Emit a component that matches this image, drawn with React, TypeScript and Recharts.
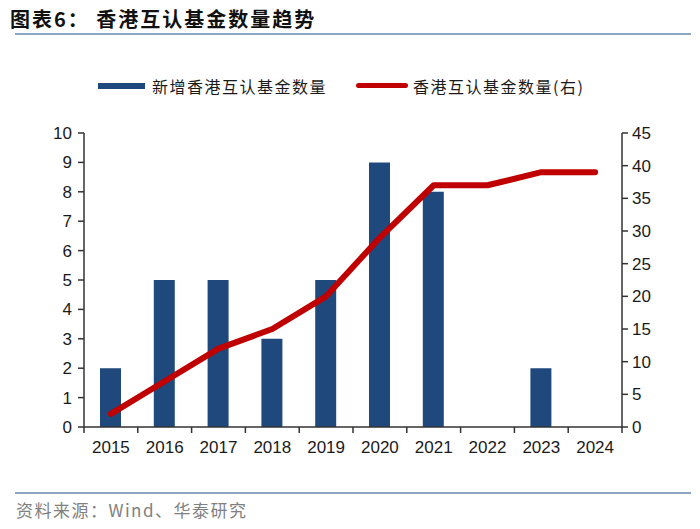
import React from "react";
import { ComposedChart, Bar, Line, XAxis, YAxis } from "recharts";

// 年份
const years = ["2015", "2016", "2017", "2018", "2019", "2020", "2021", "2022", "2023", "2024"];
// 新增香港互认基金数量（左轴）
const newFunds = [2, 5, 5, 3, 5, 9, 8, 0, 2, 0];
// 香港互认基金数量（右轴）
const totalFunds = [2, 7, 12, 15, 20, 29, 37, 37, 39, 39];

const leftTicks = [0, 1, 2, 3, 4, 5, 6, 7, 8, 9, 10];
const rightTicks = [0, 5, 10, 15, 20, 25, 30, 35, 40, 45];

const data = years.map((year, i) => ({
  year,
  newFunds: newFunds[i],
  totalFunds: totalFunds[i],
}));

const BLUE = "#1F497D";
const RED = "#C00000";
const FONT = "'Liberation Sans', Arial, sans-serif";
const CJK = "'Noto Sans CJK SC', sans-serif";
const tick = { fill: "#1a1a1a", fontSize: 17, fontFamily: FONT };
const axisStroke = { stroke: "#333", strokeWidth: 1.5 };

// chart layout
const W = 700;
const H = 529;
const margin = { top: 133, right: 30, bottom: 72, left: 36 };
const Y_W = 48;
const plotW = W - margin.left - margin.right - 2 * Y_W;
const band = plotW / years.length;

// category label plus boundary tick marks (ticks sit between categories)
function YearTick(props: any) {
  const { x, y, payload, index } = props;
  const top = y - 10; // y is label position; axis line sits tickMargin above
  const last = index === years.length - 1;
  return (
    <g>
      <line x1={x - band / 2} x2={x - band / 2} y1={top} y2={top + 6} stroke="#333" strokeWidth={1.5} />
      {last && <line x1={x + band / 2} x2={x + band / 2} y1={top} y2={top + 6} stroke="#333" strokeWidth={1.5} />}
      <text x={x} y={y} dy={16} textAnchor="middle" {...tick}>
        {payload.value}
      </text>
    </g>
  );
}

export default function App() {
  return (
    <div
      style={{
        position: "absolute",
        left: 0,
        top: 0,
        width: W,
        height: H,
        background: "#fff",
        overflow: "hidden",
      }}
    >
      {/* Title */}
      <div
        style={{
          position: "absolute",
          left: 10,
          top: 4,
          fontFamily: CJK,
          fontWeight: 700,
          fontSize: 20,
          color: "#111",
          letterSpacing: 2,
          whiteSpace: "nowrap",
        }}
      >
        图表6：&nbsp;香港互认基金数量趋势
      </div>
      <div style={{ position: "absolute", left: 15, top: 33, width: 676, height: 2, background: "#8BA6C6" }} />

      {/* Legend */}
      <div style={{ position: "absolute", left: 98, top: 83, width: 47, height: 6, background: BLUE }} />
      <div
        style={{
          position: "absolute",
          left: 152,
          top: 74,
          fontFamily: CJK,
          fontSize: 16,
          color: "#1a1a1a",
          letterSpacing: 1.5,
          whiteSpace: "nowrap",
        }}
      >
        新增香港互认基金数量
      </div>
      <div
        style={{
          position: "absolute",
          left: 356,
          top: 83,
          width: 52,
          height: 5,
          borderRadius: 3,
          background: RED,
        }}
      />
      <div
        style={{
          position: "absolute",
          left: 413,
          top: 74,
          fontFamily: CJK,
          fontSize: 16,
          color: "#1a1a1a",
          letterSpacing: 1.5,
          whiteSpace: "nowrap",
        }}
      >
        香港互认基金数量(右)
      </div>

      <div style={{ position: "absolute", left: 0, top: 0 }}>
        <ComposedChart width={W} height={H} data={data} margin={margin}>
          <XAxis
            dataKey="year"
            tick={<YearTick />}
            tickLine={false}
            axisLine={axisStroke}
            tickMargin={10}
            tickSize={0}
            height={30}
            interval={0}
          />
          <YAxis
            yAxisId="left"
            domain={[0, 10]}
            ticks={leftTicks}
            interval={0}
            tick={tick}
            tickLine={axisStroke}
            tickSize={6}
            tickMargin={6}
            axisLine={axisStroke}
            width={Y_W}
          />
          <YAxis
            yAxisId="right"
            orientation="right"
            domain={[0, 45]}
            ticks={rightTicks}
            interval={0}
            tick={tick}
            tickLine={axisStroke}
            tickSize={6}
            tickMargin={4}
            axisLine={axisStroke}
            width={Y_W}
          />
          <Bar
            yAxisId="left"
            dataKey="newFunds"
            fill={BLUE}
            barSize={21}
            isAnimationActive={false}
          />
          <Line
            yAxisId="right"
            type="linear"
            dataKey="totalFunds"
            stroke={RED}
            strokeWidth={6}
            strokeLinecap="round"
            strokeLinejoin="round"
            dot={false}
            activeDot={false}
            isAnimationActive={false}
          />
        </ComposedChart>
      </div>

      {/* Footer */}
      <div style={{ position: "absolute", left: 15, top: 492, width: 676, height: 2, background: "#8BA6C6" }} />
      <div
        style={{
          position: "absolute",
          left: 16,
          top: 497,
          fontFamily: CJK,
          fontSize: 17,
          color: "#808080",
          letterSpacing: 1.5,
          whiteSpace: "nowrap",
        }}
      >
        资料来源：Wind、华泰研究
      </div>
    </div>
  );
}
